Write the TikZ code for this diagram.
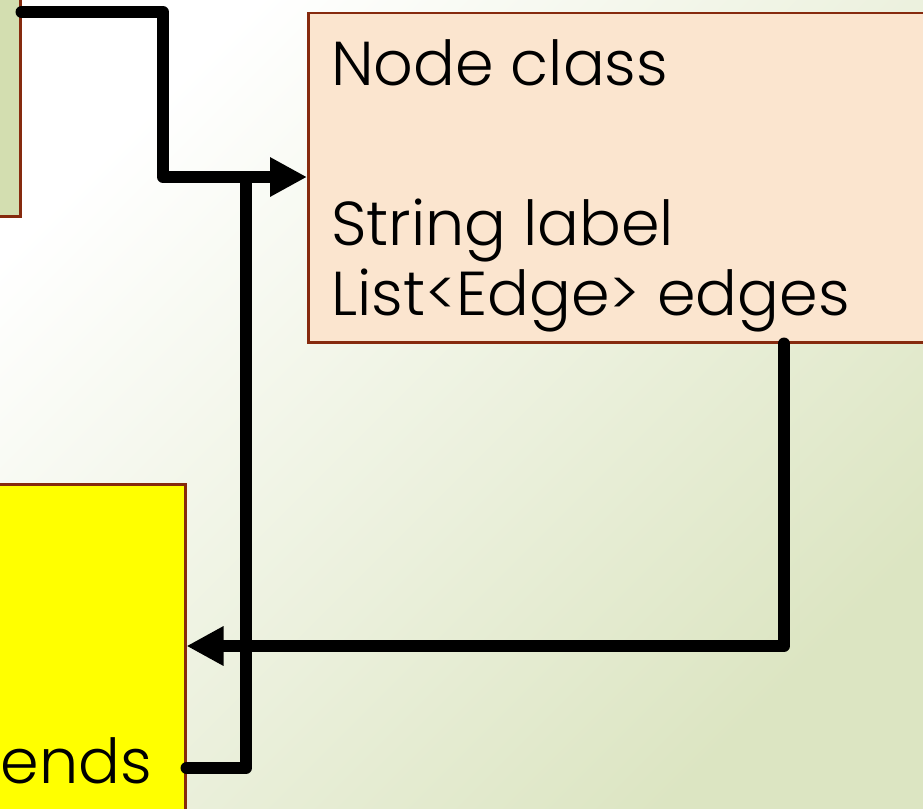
\documentclass[tikz,border=0pt]{standalone}
\usepackage{fontspec}
\setmainfont{Poppins Light}
\usetikzlibrary{arrows.meta}
\definecolor{bgA}{HTML}{FFFFFF}
\definecolor{bgB}{HTML}{DCE5C2}
\definecolor{peach}{HTML}{FBE5CF}
\definecolor{leaf}{HTML}{D3DEB0}
\definecolor{ylw}{HTML}{FFFF00}
\definecolor{brd}{HTML}{862A0E}
\tikzset{
  box/.style={draw=brd, line width=2.5pt, inner sep=0pt, anchor=north west},
  lbl/.style={inner sep=0pt, font=\fontsize{62}{74}\selectfont},
  conn/.style={line width=12pt, line join=round, black},
  tipend/.style={-{Triangle[length=37pt,width=37pt]}}
}
\begin{document}
\begin{tikzpicture}[x=1pt,y=-1pt]
\useasboundingbox (0,0) rectangle (923,808);
\begin{scope}[y=1pt]
\shade[top color=bgA, middle color=bgA!55!bgB, bottom color=bgB, shading angle=45] (0,-808) rectangle (923,0);
\end{scope}
\begin{scope}
\clip (0,0) rectangle (923,808);
\node[box, fill=leaf, minimum width=30pt, minimum height=226pt] (green) at (-11,-11) {};
\node[box, fill=peach, minimum width=630pt, minimum height=329pt] (nodebox) at (307,12) {};
\node[box, fill=ylw, minimum width=196pt, minimum height=340pt] (ybox) at (-12,483) {};
\end{scope}
\node[lbl, anchor=base west] (t1) at (331,85) {Node class};
\node[lbl, anchor=base west] (t2) at (331,245) {String label};
\node[lbl, anchor=base west] (t3) at (331,315) {List<Edge> edges};
\node[lbl, anchor=base east] (t4) at (152,783) {ends};
\coordinate (j1) at (163,12);
\coordinate (j2) at (163,177);
\coordinate (j3) at (246,768);
\coordinate (j4) at (246,177);
\coordinate (j5) at (784,646);
% ends -> up to Node link
\draw[conn, line cap=round] (ybox.east |- j3) -- (j3) -- (j4);
% green box -> Node class
\draw[conn, line cap=round, tipend] (green.east |- j1) -- (j1) -- (j2) -- (nodebox.west |- j2);
% edges -> yellow box
\draw[conn, line cap=round, tipend] (nodebox.south -| j5) -- (j5) -- (ybox.east |- j5);
\end{tikzpicture}
\end{document}
